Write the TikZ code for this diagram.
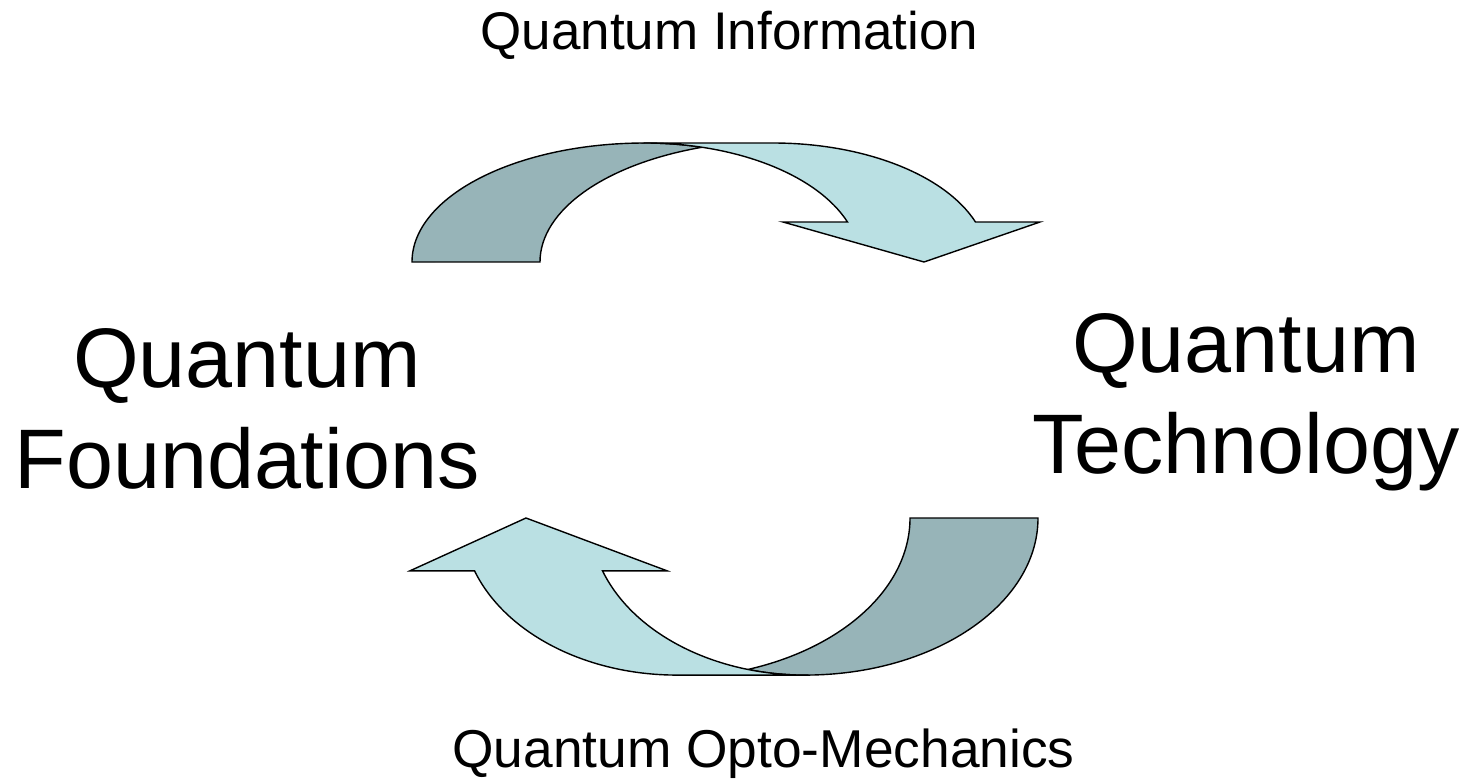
\documentclass[tikz,border=0pt]{standalone}
\usepackage{fontspec}
\setmainfont{Liberation Sans}
\definecolor{darkband}{HTML}{97B4B8}
\definecolor{lightband}{HTML}{BAE0E3}
\tikzset{
  band/.style={draw=black, line width=1.4pt, line join=miter},
  bigtext/.style={font=\fontsize{84.5}{101}\selectfont, anchor=base, align=center, inner sep=0pt},
}
\newcommand\myqarrow{%
    \path[band, fill=darkband] (412,-262)
      arc[start angle=180, end angle=90, x radius=233, y radius=119]
      arc[start angle=90, end angle=74.63, x radius=215, y radius=119]
      arc[start angle=108.97, end angle=180, x radius=240, y radius=121.3] -- cycle;
    \path[band, fill=lightband] (645,-143) -- (773,-143)
      arc[start angle=90, end angle=19.64, x radius=215, y radius=119]
      -- (1040,-222) -- (924,-262) -- (783,-222) -- (847.5,-222)
      arc[start angle=19.64, end angle=90, x radius=215, y radius=119] -- cycle;
}
\begin{document}
\begin{tikzpicture}[x=1pt,y=1pt]
\useasboundingbox (0,0) rectangle (1470,-782);
\begin{scope}
  \myqarrow
\end{scope}
\begin{scope}[xshift=1450pt, yshift=-863.84pt, xscale=-1, yscale=-1.32]
  \myqarrow
\end{scope}
\node[font=\fontsize{53}{64}\selectfont, anchor=base, inner sep=0pt] (info) at (729.5,-49) {Quantum Information};
\node[font=\fontsize{53.3}{64}\selectfont, anchor=base, inner sep=0pt] (optomech) at (763.5,-767) {Quantum Opto-Mechanics};
\node[bigtext] (found) at (247,-488) {Quantum\\Foundations};
\node[bigtext] (tech) at (1246,-473) {Quantum\\Technology};
\end{tikzpicture}
\end{document}
